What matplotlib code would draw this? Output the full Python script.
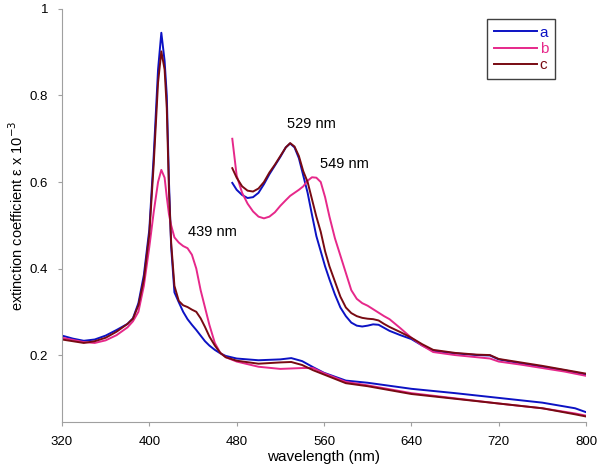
import numpy as np
import matplotlib
matplotlib.use("Agg")
import matplotlib.pyplot as plt

plt.rcParams["font.family"] = ["Liberation Sans", "DejaVu Sans"]

# full range spectra (lower set)
wl_full = [320, 330, 340, 350, 360, 370, 380, 385, 390, 395, 400, 404, 408, 411, 414, 416,
           418, 420, 423, 427, 431, 435, 439, 443, 447, 451, 455, 460, 465, 470, 480, 500, 520,
           530, 540, 550, 560, 580, 600, 640, 680, 720, 760, 790, 800]
a_full = [.245, .238, .233, .236, .245, .258, .272, .285, .32, .385, .49, .66, .86, .945, .88, .80,
          .60, .45, .345, .322, .300, .283, .270, .258, .245, .232, .222, .212, .204, .198, .192, .188, .190,
          .193, .186, .172, .159, .141, .136, .122, .112, .101, .090, .077, .068]
b_full = [.240, .235, .230, .228, .234, .246, .264, .278, .30, .36, .45, .53, .60, .628, .61, .565,
          .525, .50, .472, .460, .452, .447, .432, .40, .35, .31, .27, .228, .205, .195, .185, .173, .168,
          .169, .170, .170, .158, .138, .130, .112, .100, .088, .077, .065, .060]
c_full = [.236, .232, .228, .232, .240, .254, .272, .284, .315, .375, .48, .64, .83, .902, .86, .77,
          .58, .46, .36, .325, .315, .311, .305, .300, .285, .265, .243, .222, .205, .195, .187, .180, .183,
          .184, .177, .165, .155, .135, .128, .110, .099, .088, .077, .063, .058]

# visible range spectra, scaled (upper set)
wl_vis = [476, 480, 485, 490, 495, 500, 505, 510, 515, 520, 525, 529, 533, 537, 541, 545, 549,
          553, 557, 561, 565, 570, 575, 580, 585, 590, 595, 600, 605, 610, 615, 620, 630, 640,
          650, 660, 680, 700, 712, 720, 740, 760, 780, 800]
a_vis = [.598, .582, .570, .563, .565, .575, .595, .618, .638, .658, .680, .689, .680, .655, .615, .575, .524,
         .475, .440, .405, .375, .340, .310, .290, .275, .268, .266, .268, .271, .270, .263, .256, .246, .237,
         .222, .210, .204, .200, .199, .190, .181, .173, .165, .155]
b_vis = [.700, .615, .575, .550, .532, .520, .516, .520, .530, .545, .558, .568, .575, .582, .590, .603, .611,
         .610, .600, .565, .520, .470, .430, .390, .350, .330, .320, .314, .306, .298, .290, .283, .262, .240,
         .222, .207, .200, .195, .192, .185, .178, .170, .162, .152]
c_vis = [.632, .610, .590, .580, .578, .585, .600, .622, .640, .660, .680, .690, .682, .660, .625, .600, .560,
         .520, .485, .440, .405, .370, .335, .310, .297, .290, .286, .284, .283, .280, .272, .265, .253, .240,
         .225, .212, .205, .201, .200, .191, .183, .175, .166, .157]

labels = ["a", "b", "c"]
colors = ["#0c12c4", "#e6288a", "#780a12"]

fig = plt.figure(figsize=(6, 4.7), dpi=100)
ax = fig.add_axes([0.1033, 0.1028, 0.8734, 0.8781])

series = [(a_full, a_vis), (b_full, b_vis), (c_full, c_vis)]
for (yf, yv), lab, col in zip(series, labels, colors):
    ax.plot(wl_full, yf, color=col, lw=1.4, label=lab)
    ax.plot(wl_vis, yv, color=col, lw=1.4)

ax.set_xlim(320, 800)
ax.set_ylim(0.046, 1.0)
ax.set_xticks(np.arange(320, 801, 80))
ax.set_yticks([0.2, 0.4, 0.6, 0.8, 1.0])
ax.set_yticklabels(["0.2", "0.4", "0.6", "0.8", "1"])

for side in ["top", "right"]:
    ax.spines[side].set_visible(False)
for side in ["left", "bottom"]:
    ax.spines[side].set_color("#a0a0a0")
ax.tick_params(direction="out", length=3, color="#a0a0a0", labelsize=9.5, pad=7)

ax.set_xlabel("wavelength (nm)", fontsize=11, labelpad=2)
ax.set_ylabel("extinction coefficient ε x 10$^{-3}$", fontsize=10.5, labelpad=3)

ax.text(526, 0.734, "529 nm", fontsize=10.5, va="center")
ax.text(556, 0.642, "549 nm", fontsize=10.5, va="center")
ax.text(435.5, 0.484, "439 nm", fontsize=10.5, va="center")

leg = ax.legend(loc="upper right", bbox_to_anchor=(0.941, 0.976), borderaxespad=0,
                fancybox=False, edgecolor="#404040", framealpha=1, fontsize=11,
                handlelength=2.8, handletextpad=0.2, labelspacing=0.15, borderpad=0.45,
                labelcolor="linecolor")
leg.get_frame().set_linewidth(1.0)

fig.savefig("out.png", dpi=100)
